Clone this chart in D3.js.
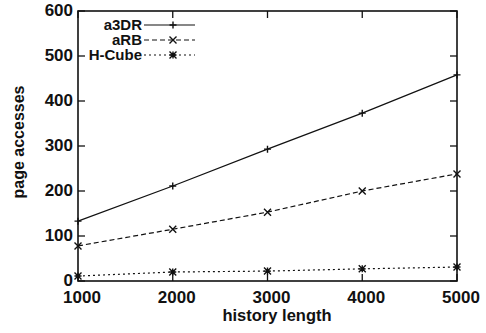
<!DOCTYPE html>
<html lang="en">
<head>
  <meta charset="UTF-8" />
  <title>Page accesses vs history length</title>
  <script src="https://d3js.org/d3.v7.min.js"></script>
  <style>
    body { margin: 0; background: #fff; }
    svg { display: block; }
    .tick-label, .axis-title, .legend text {
      font-family: "Liberation Sans", Arial, sans-serif;
      font-weight: bold;
      fill: #111;
    }
  </style>
</head>
<body>
  <div id="vis"></div>
  <script>
    const historyLength = [1000, 2000, 3000, 4000, 5000];
    const a3DR = [133, 211, 293, 373, 458];
    const aRB = [78, 115, 153, 200, 238];
    const hCube = [11, 20, 22, 27, 31];
    const xTicks = [1000, 2000, 3000, 4000, 5000];
    const yTicks = [0, 100, 200, 300, 400, 500, 600];

    const series = [
      { name: "a3DR", values: a3DR, dash: null, marker: "plus" },
      { name: "aRB", values: aRB, dash: "5,3", marker: "cross" },
      { name: "H-Cube", values: hCube, dash: "2,3", marker: "star" }
    ];

    const W = 486, H = 333;
    const plot = { left: 78, right: 457, top: 11, bottom: 281 };

    const svg = d3.select("#vis").append("svg")
      .attr("width", W).attr("height", H);

    const x = d3.scaleLinear().domain([1000, 5000]).range([plot.left, plot.right]);
    const y = d3.scaleLinear().domain([0, 600]).range([plot.bottom, plot.top]);

    const ink = "#111";

    // frame
    svg.append("rect")
      .attr("x", plot.left).attr("y", plot.top)
      .attr("width", plot.right - plot.left).attr("height", plot.bottom - plot.top)
      .attr("fill", "none").attr("stroke", ink).attr("stroke-width", 1.6);

    // ticks (inward, mirrored)
    const tl = 7;
    yTicks.forEach(v => {
      svg.append("line").attr("x1", plot.left).attr("x2", plot.left + tl)
        .attr("y1", y(v)).attr("y2", y(v)).attr("stroke", ink).attr("stroke-width", 1.3);
      svg.append("line").attr("x1", plot.right).attr("x2", plot.right - tl)
        .attr("y1", y(v)).attr("y2", y(v)).attr("stroke", ink).attr("stroke-width", 1.3);
      svg.append("text").attr("class", "tick-label")
        .attr("x", plot.left - 5).attr("y", y(v) + 5)
        .attr("text-anchor", "end").style("font-size", "17px")
        .text(v);
    });
    xTicks.forEach(v => {
      svg.append("line").attr("x1", x(v)).attr("x2", x(v))
        .attr("y1", plot.bottom).attr("y2", plot.bottom - tl).attr("stroke", ink).attr("stroke-width", 1.3);
      svg.append("line").attr("x1", x(v)).attr("x2", x(v))
        .attr("y1", plot.top).attr("y2", plot.top + tl).attr("stroke", ink).attr("stroke-width", 1.3);
      svg.append("text").attr("class", "tick-label")
        .attr("x", x(v) + 4).attr("y", plot.bottom + 22)
        .attr("text-anchor", "middle").style("font-size", "17px")
        .text(v);
    });

    // axis titles
    svg.append("text").attr("class", "axis-title")
      .attr("x", 277).attr("y", 321)
      .attr("text-anchor", "middle").style("font-size", "16.5px")
      .text("history length");
    svg.append("text").attr("class", "axis-title")
      .attr("transform", "translate(24,142) rotate(-90)")
      .attr("text-anchor", "middle").style("font-size", "16px")
      .text("page accesses");

    function drawMarker(g, type, cx, cy) {
      const s = 3.5;
      let d;
      if (type === "plus") d = `M${cx - s},${cy}H${cx + s}M${cx},${cy - s}V${cy + s}`;
      else if (type === "cross") d = `M${cx - s},${cy - s}L${cx + s},${cy + s}M${cx - s},${cy + s}L${cx + s},${cy - s}`;
      else d = `M${cx - s},${cy}H${cx + s}M${cx - s},${cy - s}L${cx + s},${cy + s}M${cx - s},${cy + s}L${cx + s},${cy - s}M${cx},${cy - s}V${cy + s}`;
      g.append("path").attr("d", d).attr("stroke", ink).attr("stroke-width", 1.4).attr("fill", "none");
    }

    const line = d3.line().x((d, i) => x(historyLength[i])).y(d => y(d));

    series.forEach(s => {
      const g = svg.append("g");
      g.append("path").datum(s.values)
        .attr("d", line).attr("fill", "none")
        .attr("stroke", ink).attr("stroke-width", 1.2)
        .attr("stroke-dasharray", s.dash);
      s.values.forEach((v, i) => drawMarker(g, s.marker, x(historyLength[i]), y(v)));
    });

    // legend
    const legend = svg.append("g").attr("class", "legend");
    series.forEach((s, i) => {
      const ly = 25 + i * 15;
      legend.append("text")
        .attr("x", 142).attr("y", ly + 5)
        .attr("text-anchor", "end").style("font-size", "15px")
        .text(s.name);
      legend.append("line")
        .attr("x1", 144).attr("x2", 195).attr("y1", ly).attr("y2", ly)
        .attr("stroke", ink).attr("stroke-width", 1.2)
        .attr("stroke-dasharray", s.dash);
      drawMarker(legend, s.marker, 173, ly);
    });
  </script>
</body>
</html>
